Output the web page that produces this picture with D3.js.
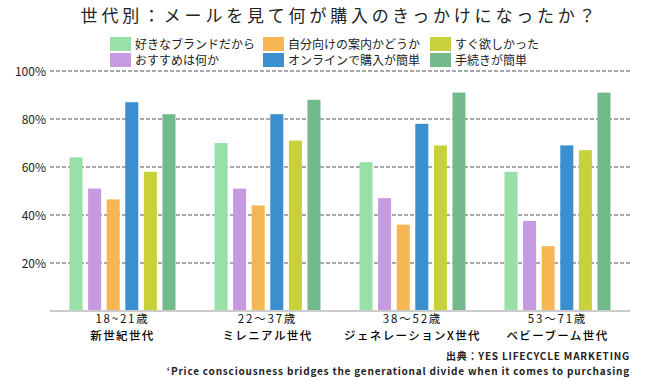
<!DOCTYPE html>
<html><head><meta charset="utf-8">
<script src="https://cdn.jsdelivr.net/npm/d3@7"></script>
<style>
body{margin:0;background:#fff;}
text{font-family:"Noto Sans CJK JP","Noto Sans",sans-serif;}
</style></head>
<body><svg id="c" width="650" height="380"></svg>
<script>
const title = "世代別：メールを見て何が購入のきっかけになったか？";
const groups = ["18~21歳|新世紀世代","22～37歳|ミレニアル世代","38～52歳|ジェネレーションX世代","53～71歳|ベビーブーム世代"];
const seriesNames = ["好きなブランドだから","おすすめは何か","自分向けの案内かどうか","オンラインで購入が簡単","すぐ欲しかった","手続きが簡単"];
const seriesColors = ["#98e0a8","#c59ae0","#f6b653","#3b8fcf","#c8d13a","#72b98c"];
const brand   = [64, 70, 62, 58];
const recommend = [51, 51, 47, 37.5];
const personal = [46.5, 44, 36, 27];
const online  = [87, 82, 78, 69];
const wantNow = [58, 71, 69, 67];
const easy    = [82, 88, 91, 91];
const values = [brand, recommend, personal, online, wantNow, easy];
const yTicks = [20, 40, 60, 80, 100];
const sourceLines = ["出典：YES LIFECYCLE MARKETING","‘Price consciousness bridges the generational divide when it comes to purchasing"];

const svg = d3.select("#c");
const x0 = d3.scaleBand().domain(d3.range(groups.length)).range([50, 630]).padding(0);
const x1 = d3.scaleBand().domain(d3.range(seriesNames.length)).range([0, x0.bandwidth()]).paddingInner(0.3).paddingOuter(1.05);
const y = d3.scaleLinear().domain([0, 100]).range([311, 71]);

// title
svg.append("text").attr("x", 340).attr("y", 22).attr("text-anchor","middle")
  .attr("font-size", 17).attr("letter-spacing", 3.8).attr("fill","#222").text(title);

// legend
const legCols = [110, 263, 430];
seriesNames.forEach((n,i)=>{
  const cx = legCols[Math.floor(i/2)], cy = 37 + (i%2)*16;
  const g = svg.append("g").attr("transform",`translate(${cx},${cy})`);
  g.append("rect").attr("width",21).attr("height",14).attr("fill",seriesColors[i]);
  g.append("text").attr("x",25).attr("y",11.5).attr("font-size",12).attr("fill","#222").text(n);
});

// gridlines
const grid = svg.append("g");
grid.selectAll("line").data(yTicks).join("line")
  .attr("x1",50).attr("x2",630).attr("y1",d=>y(d)).attr("y2",d=>y(d))
  .attr("stroke","#a8a8a8").attr("stroke-width",2).attr("stroke-dasharray","4,2");
grid.selectAll("text").data(yTicks).join("text")
  .attr("x",46).attr("y",d=>y(d)+4.5).attr("text-anchor","end").attr("font-size",12).attr("fill","#222")
  .text(d=>d+"%");

// bars
groups.forEach((g,gi)=>{
  svg.append("g").selectAll("rect").data(values.map((v,si)=>({si,v:v[gi]}))).join("rect")
    .attr("x",d=>x0(gi)+x1(d.si)).attr("width",x1.bandwidth())
    .attr("y",d=>y(d.v)).attr("height",d=>y(0)-y(d.v)).attr("fill",d=>seriesColors[d.si]);
});

// baseline
svg.append("line").attr("x1",50).attr("x2",630).attr("y1",311).attr("y2",311)
  .attr("stroke","#cccccc").attr("stroke-width",2);

// category labels
groups.forEach((g,gi)=>{
  const [a,b] = g.split("|");
  const cx = x0(gi)+x0.bandwidth()/2;
  svg.append("text").attr("x",cx).attr("y",322.5).attr("text-anchor","middle").attr("font-size",11.5).attr("letter-spacing",1.8).attr("fill","#111").text(a);
  svg.append("text").attr("x",cx).attr("y",339.5).attr("text-anchor","middle").attr("font-size",11.5).attr("letter-spacing",1.4).attr("font-weight",500).attr("fill","#000").text(b);
});

// source
sourceLines.forEach((s,i)=>{
  svg.append("text").attr("x",630).attr("y",360+i*14.5).attr("text-anchor","end")
    .attr("font-size",10).attr("font-weight","bold").attr("letter-spacing",0.8).attr("fill","#222").text(s);
});
</script></body></html>
